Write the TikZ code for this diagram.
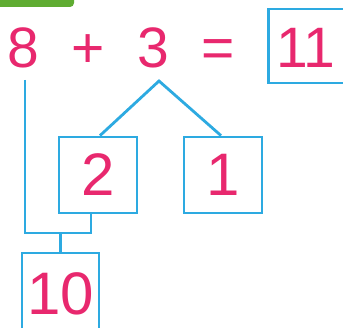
\documentclass[tikz,border=0pt]{standalone}
\usepackage{fontspec}
\setmainfont{Liberation Sans}
\definecolor{digitpink}{RGB}{232,40,110}
\definecolor{lineblue}{RGB}{45,170,225}
\definecolor{tabgreen}{RGB}{95,172,50}
\begin{document}
\begin{tikzpicture}[x=1pt,y=1pt,
  digit/.style={text=digitpink,font=\fontsize{57}{60}\selectfont,inner sep=0pt,anchor=base},
  numbox/.style={draw=lineblue,line width=2.8pt,text=digitpink,font=\fontsize{60}{64}\selectfont,inner sep=0pt},
  conn/.style={draw=lineblue,line width=2.8pt}]
\useasboundingbox (0,0) rectangle (343,-328);
\begin{scope}
\clip (0,0) rectangle (343,-328);
\fill[white] (0,0) rectangle (343,-328);
\fill[tabgreen,rounded corners=4pt] (-10,10) rectangle (74,-7);
% top row
\node[digit] (e8) at (23,-68) {8};
\node[digit] (plus) at (88,-68) {+};
\node[digit] (e3) at (153,-68) {3};
\node[digit] (eq) at (218,-68) {=};
\node[numbox,anchor=west,minimum width=120pt,minimum height=74pt] (b11) at (267,-46) {};
\node[digit] (n11) at (306,-68) {11};
% boxes
\node[numbox,minimum width=78pt,minimum height=76pt] (b2) at (98,-175) {2};
\node[numbox,minimum width=78pt,minimum height=76pt] (b1) at (223,-175) {1};
\node[numbox,minimum width=77pt,minimum height=82pt] (b10) at (60.5,-294) {10};
% connectors
\coordinate (apex) at (159,-81);
\coordinate (s8) at (25,-80);
\coordinate (j) at (91,-233);
\draw[conn] ([xshift=2pt]b2.north) -- (apex) -- ([xshift=-2pt]b1.north);
\draw[conn,line join=miter] (s8) |- (j) -- (j |- b2.south);
\draw[conn] (b10.north |- j) -- (b10.north);
\end{scope}
\end{tikzpicture}
\end{document}
